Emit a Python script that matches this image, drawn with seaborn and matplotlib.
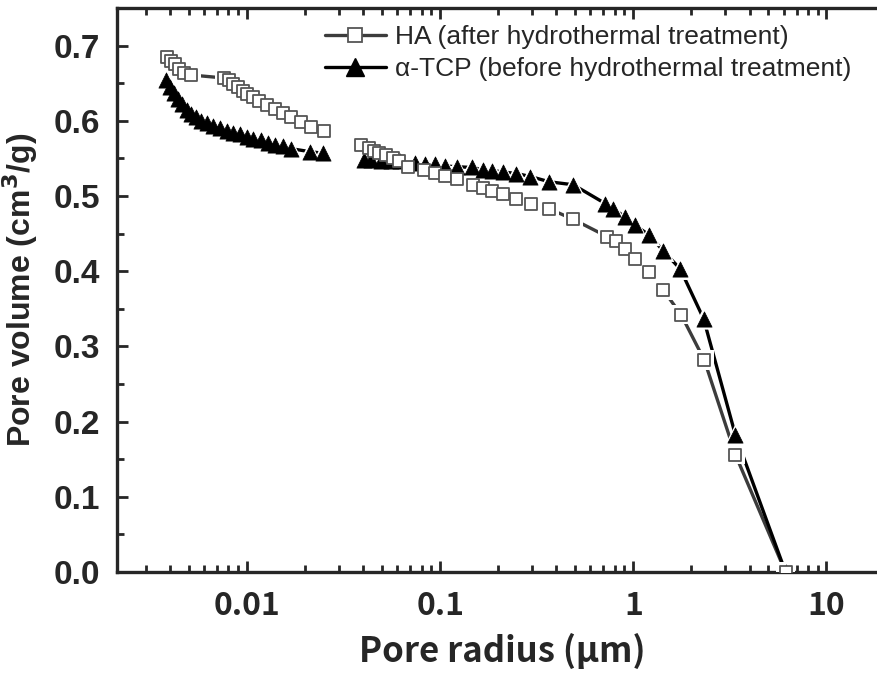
import matplotlib
matplotlib.use("Agg")
import matplotlib.pyplot as plt
import matplotlib.ticker as mticker
from matplotlib.lines import Line2D
import pandas as pd
import seaborn as sns

# HA (after hydrothermal treatment), open squares; segment 0/1 = before/after the gap
ha_radius = [0.00385, 0.00404, 0.00423, 0.00444, 0.00472, 0.00513, 0.00760, 0.00807,
             0.00846, 0.00898, 0.00953, 0.0100, 0.0107, 0.0115, 0.0127, 0.0140,
             0.0154, 0.0169, 0.0191, 0.0215, 0.0251,
             0.0390, 0.0429, 0.0455, 0.0483, 0.0525, 0.0571, 0.0613, 0.0683,
             0.0826, 0.0941, 0.106, 0.122, 0.148, 0.167, 0.186, 0.212, 0.248,
             0.296, 0.367, 0.489, 0.733, 0.816, 0.910, 1.024, 1.21, 1.43, 1.77,
             2.33, 3.38, 6.14]
ha_volume = [0.685, 0.680, 0.675, 0.669, 0.664, 0.661, 0.657, 0.654,
             0.649, 0.645, 0.640, 0.636, 0.632, 0.627, 0.621, 0.616,
             0.611, 0.605, 0.599, 0.592, 0.587,
             0.568, 0.564, 0.560, 0.557, 0.554, 0.550, 0.547, 0.538,
             0.535, 0.531, 0.527, 0.523, 0.515, 0.511, 0.507, 0.503, 0.496,
             0.489, 0.483, 0.469, 0.446, 0.440, 0.430, 0.416, 0.399, 0.375, 0.342,
             0.282, 0.156, 0.0]
ha_segment = [0] * 21 + [1] * 30

# alpha-TCP (before hydrothermal treatment), filled triangles
tcp_radius = [0.00380, 0.00399, 0.00419, 0.00439, 0.00461, 0.00489, 0.00513, 0.00544,
              0.00578, 0.00620, 0.00667, 0.00725, 0.00788, 0.00846, 0.00920, 0.0100,
              0.0107, 0.0118, 0.0128, 0.0140, 0.0154, 0.0169, 0.0212, 0.0247,
              0.0404, 0.0439, 0.0494, 0.0557, 0.0621, 0.0742, 0.0836, 0.0941,
              0.106, 0.122, 0.146, 0.167, 0.186, 0.212, 0.248, 0.293, 0.367,
              0.489, 0.716, 0.787, 0.910, 1.024, 1.21, 1.43, 1.75, 2.31, 3.38, 6.14]
tcp_volume = [0.655, 0.645, 0.637, 0.629, 0.622, 0.615, 0.609, 0.605,
              0.600, 0.597, 0.593, 0.591, 0.587, 0.584, 0.582, 0.579,
              0.576, 0.574, 0.571, 0.568, 0.566, 0.563, 0.559, 0.557,
              0.548, 0.548, 0.547, 0.546, 0.546, 0.544, 0.543, 0.542,
              0.540, 0.539, 0.538, 0.535, 0.534, 0.532, 0.530, 0.526, 0.519,
              0.515, 0.490, 0.483, 0.472, 0.461, 0.448, 0.427, 0.403, 0.337, 0.182, 0.0]
tcp_segment = [0] * 24 + [1] * 28

ha_label = "HA (after hydrothermal treatment)"
tcp_label = "\u03b1-TCP (before hydrothermal treatment)"

ha = pd.DataFrame({"radius": ha_radius, "volume": ha_volume, "segment": ha_segment})
tcp = pd.DataFrame({"radius": tcp_radius, "volume": tcp_volume, "segment": tcp_segment})

sns.set_style("ticks")
plt.rcParams["font.family"] = ["Liberation Sans", "DejaVu Sans"]

fig = plt.figure(figsize=(8.78, 6.73), dpi=100)
ax = fig.add_axes([0.1333, 0.150, 0.877, 0.838])

ha_color = "#3c3c3c"
# lines (broken at the gap between the two measurement ranges)
sns.lineplot(data=ha, x="radius", y="volume", units="segment", estimator=None,
             color=ha_color, lw=2.4, ax=ax, zorder=2, legend=False)
sns.lineplot(data=tcp, x="radius", y="volume", units="segment", estimator=None,
             color="black", lw=2.4, ax=ax, zorder=2, legend=False)
# white halos so the lines stop short of each marker
sns.scatterplot(data=ha, x="radius", y="volume", marker="s", s=190, color="white",
                edgecolor="none", ax=ax, zorder=3, legend=False)
sns.scatterplot(data=tcp, x="radius", y="volume", marker="^", s=250, color="white",
                edgecolor="none", ax=ax, zorder=3, legend=False)
# markers
sns.scatterplot(data=tcp, x="radius", y="volume", marker="^", s=120, color="black",
                edgecolor="black", linewidth=0.5, ax=ax, zorder=4, legend=False)
sns.scatterplot(data=ha, x="radius", y="volume", marker="s", s=80, color="white",
                edgecolor="#555555", linewidth=1.3, ax=ax, zorder=5, legend=False)

ax.set_xscale("log")
ax.set_xlim(0.00212, 20.6)
ax.set_ylim(0, 0.75)

ax.yaxis.set_major_locator(mticker.MultipleLocator(0.1))
ax.yaxis.set_minor_locator(mticker.MultipleLocator(0.05))
ax.yaxis.set_major_formatter(mticker.FormatStrFormatter("%.1f"))
ax.xaxis.set_major_locator(mticker.LogLocator(base=10))
ax.xaxis.set_minor_locator(mticker.LogLocator(base=10, subs=range(2, 10)))
ax.xaxis.set_major_formatter(mticker.FuncFormatter(lambda v, p: f"{v:g}"))

for s in ax.spines.values():
    s.set_linewidth(2.4)
ax.tick_params(which="both", direction="in", top=True, right=False, width=2)
ax.tick_params(which="major", length=8)
ax.tick_params(which="minor", length=5)
ax.tick_params(axis="x", which="major", pad=13)
ax.tick_params(axis="y", which="major", pad=12)

for t in ax.get_yticklabels():
    t.set_fontsize(24)
    t.set_fontweight("bold")
for t in ax.get_xticklabels():
    t.set_fontsize(23)
    t.set_fontweight("bold")
    t.set_family(["Noto Sans CJK JP", "DejaVu Sans"])

ax.set_ylabel("Pore volume (cm$^{\\mathbf{3}}$/g)", fontsize=23, fontweight="bold",
              labelpad=10)
ax.set_xlabel("Pore radius (\u03bcm)", fontsize=25, fontweight="bold", labelpad=8,
              family=["Noto Sans CJK JP", "DejaVu Sans"])

handles = [
    Line2D([], [], color=ha_color, lw=2.4, marker="s", markersize=10,
           markerfacecolor="white", markeredgecolor="#555555", markeredgewidth=1.3),
    Line2D([], [], color="black", lw=2.4, marker="^", markersize=13,
           markerfacecolor="black", markeredgecolor="black"),
]
ax.legend(handles, [ha_label, tcp_label], loc="upper left",
          bbox_to_anchor=(0.352, 0.986), bbox_transform=fig.transFigure,
          frameon=False, fontsize=19, handlelength=2.3, handletextpad=0.35,
          labelspacing=0.3, borderaxespad=0.2)

fig.savefig("out.png", dpi=100)
